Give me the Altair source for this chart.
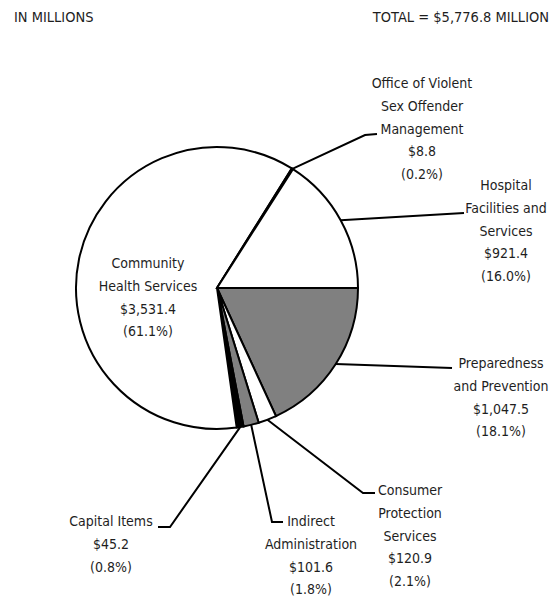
import math
import altair as alt
import pandas as pd

# ---- data ----
names = ["Preparedness and Prevention", "Consumer Protection Services", "Indirect Administration",
         "Capital Items", "Community Health Services", "Office of Violent Sex Offender Management",
         "Hospital Facilities and Services"]
label_lines = [
    ["Preparedness", "and Prevention"],
    ["Consumer", "Protection", "Services"],
    ["Indirect", "Administration"],
    ["Capital Items"],
    ["Community", "Health Services"],
    ["Office of Violent", "Sex Offender", "Management"],
    ["Hospital", "Facilities and", "Services"],
]
values = [1047.5, 120.9, 101.6, 45.2, 3531.4, 8.8, 921.4]
fills = ["#808080", "#ffffff", "#808080", "#000000", "#ffffff", "#000000", "#ffffff"]
total = 5776.8

# ---- layout (page pixel coordinates) ----
CX, CY, R = 217, 288, 141
START = math.pi / 2
label_anchor = [(501, 364), (410, 491), (311, 522), (111, 522), (148, 264), (422, 84), (506, 186)]
leader_pts = [
    [(452, 368)],
    [(363, 493), (375, 493)],
    [(272, 522), (283, 522)],
    [(170, 527), (158, 527)],
    None,
    [(365, 135), (377, 134)],
    [(464, 213)],
]
LH = 22.8
FONT = "DejaVu Sans Condensed, sans-serif"
TXT = "#1e1e1e"
FS = 14

pie_df = pd.DataFrame({"name": names, "value": values, "fill": fills, "idx": range(len(names))})

# labels
rows = []
for i, (n, v) in enumerate(zip(names, values)):
    lines = label_lines[i] + [f"${v:,.1f}", f"({v / total * 100:.1f}%)"]
    ax, ay = label_anchor[i]
    for k, t in enumerate(lines):
        rows.append({"x": ax, "y": ay + k * LH, "t": t})
lab_df = pd.DataFrame(rows)

# leader lines from slice mid-angle on the rim
lrows = []
cum = 0.0
for i, v in enumerate(values):
    mid = START + (cum + v / 2) / total * 2 * math.pi
    cum += v
    if leader_pts[i] is None:
        continue
    sx = CX + R * math.sin(mid)
    sy = CY - R * math.cos(mid)
    pts = [(sx, sy)] + leader_pts[i]
    for k, (px, py) in enumerate(pts):
        lrows.append({"name": names[i], "seq": k, "x": px, "y": py})
lead_df = pd.DataFrame(lrows)

head_df = pd.DataFrame({"x": [14, 549], "y": [18, 18],
                        "t": ["IN MILLIONS", "TOTAL = $5,776.8 MILLION"], "a": ["l", "r"]})

W, H = 542, 589
xs = alt.Scale(domain=[8, 8 + W], nice=False, zero=False)
ys = alt.Scale(domain=[8, 8 + H], nice=False, zero=False, reverse=True)

pie = alt.Chart(pie_df).mark_arc(radius=R, stroke="black", strokeWidth=2).encode(
    theta=alt.Theta("value:Q", stack=True, scale=alt.Scale(range=[START, START + 2 * math.pi])),
    order=alt.Order("idx:Q"),
    fill=alt.Fill("fill:N", scale=None),
    x=alt.value(CX - 8),
    y=alt.value(CY - 8),
)

lead = alt.Chart(lead_df).mark_line(color="black", strokeWidth=2).encode(
    x=alt.X("x:Q", scale=xs, axis=None),
    y=alt.Y("y:Q", scale=ys, axis=None),
    detail="name:N",
    order="seq:Q",
)

labels = alt.Chart(lab_df).mark_text(font=FONT, fontSize=FS, color=TXT, align="center",
                                     baseline="middle").encode(
    x=alt.X("x:Q", scale=xs, axis=None),
    y=alt.Y("y:Q", scale=ys, axis=None),
    text="t:N",
)

hl = alt.Chart(head_df[head_df.a == "l"]).mark_text(font=FONT, fontSize=14.5, color=TXT, align="left",
                                                    baseline="middle").encode(
    x=alt.X("x:Q", scale=xs, axis=None), y=alt.Y("y:Q", scale=ys, axis=None), text="t:N")
hr = alt.Chart(head_df[head_df.a == "r"]).mark_text(font=FONT, fontSize=14.5, color=TXT, align="right",
                                                    baseline="middle").encode(
    x=alt.X("x:Q", scale=xs, axis=None), y=alt.Y("y:Q", scale=ys, axis=None), text="t:N")

chart = alt.layer(pie, lead, labels, hl, hr).properties(
    width=W, height=H, padding=0, autosize=alt.AutoSizeParams(type="none"), background="white"
).configure_view(stroke=None)

chart.save("out.html", embed_options={"renderer": "svg", "actions": False})
